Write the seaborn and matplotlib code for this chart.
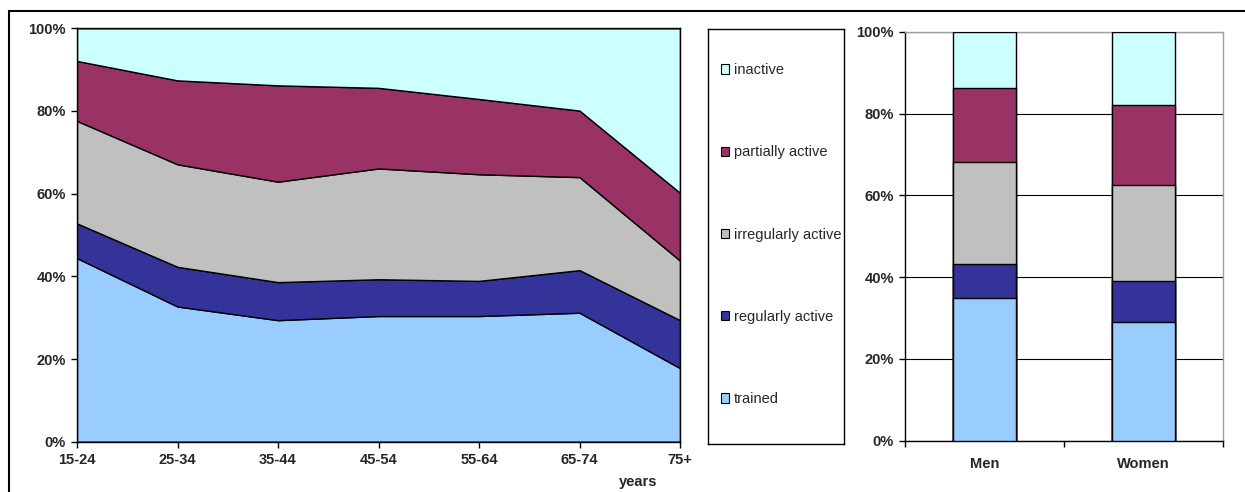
import numpy as np
import pandas as pd
import matplotlib
matplotlib.use("Agg")
import matplotlib.pyplot as plt
import seaborn as sns
from matplotlib.patches import Patch, Rectangle
from matplotlib.ticker import FuncFormatter

# share of each activity level (%) by age group
age_groups = ['15-24', '25-34', '35-44', '45-54', '55-64', '65-74', '75+']
trained = [44.4, 32.7, 29.4, 30.4, 30.4, 31.2, 17.8]
regularly = [8.4, 9.6, 9.2, 8.9, 8.5, 10.3, 11.6]
irregularly = [24.8, 24.8, 24.3, 26.8, 25.8, 22.5, 14.4]
partially = [14.5, 20.3, 23.3, 19.5, 18.2, 16.1, 16.4]
inactive = [7.9, 12.6, 13.8, 14.4, 17.1, 19.9, 39.8]

# share of each activity level (%) by sex
sexes = ['Men', 'Women']
sex_trained = [34.8, 29.1]
sex_regularly = [8.3, 9.9]
sex_irregularly = [25.0, 23.4]
sex_partially = [18.1, 19.7]
sex_inactive = [13.8, 17.9]

levels = ['trained', 'regularly active', 'irregularly active', 'partially active', 'inactive']
colors = ['#99CCFF', '#333399', '#C0C0C0', '#993366', '#CCFFFF']

sns.set_style('white')
plt.rcParams['font.family'] = ['Liberation Sans', 'DejaVu Sans']

fig = plt.figure(figsize=(12.45, 4.92), dpi=100)
W, H = 1245, 492

def box(x0, y0, x1, y1):
    return [x0 / W, 1 - y1 / H, (x1 - x0) / W, (y1 - y0) / H]

pct = FuncFormatter(lambda v, p: f'{v:.0f}%')

# --- stacked area by age group ---
ax1 = fig.add_axes(box(77, 28.3, 680, 441.7))
x = np.arange(len(age_groups))
ax1.stackplot(x, trained, regularly, irregularly, partially, inactive,
              colors=colors, edgecolor='black', linewidth=1)
ax1.set_xlim(0, len(age_groups) - 1)
ax1.set_ylim(0, 100)
ax1.set_xticks(x)
ax1.set_xticklabels(age_groups)
ax1.set_yticks(range(0, 101, 20))
ax1.yaxis.set_major_formatter(pct)
for s in ax1.spines.values():
    s.set_color('black')
    s.set_linewidth(1)
ax1.tick_params(axis='both', which='major', length=4, width=1, color='black',
                direction='out', bottom=True, left=True, pad=4, labelsize=10.5)
for lab in ax1.get_xticklabels() + ax1.get_yticklabels():
    lab.set_fontweight('bold')
ax1.text(0.93, -0.097, 'years', transform=ax1.transAxes, ha='center', va='center',
         fontsize=10.5, fontweight='bold')

# --- legend box ---
axl = fig.add_axes(box(708.3, 29.3, 844, 444.3))
axl.set_xticks([])
axl.set_yticks([])
for s in axl.spines.values():
    s.set_color('black')
    s.set_linewidth(1)
handles = [Patch(facecolor=c, edgecolor='black', linewidth=0.8, label=l)
           for c, l in zip(colors, levels)][::-1]
axl.legend(handles=handles, loc='center left', bbox_to_anchor=(0.0, 0.505),
           frameon=False, fontsize=10.5, labelspacing=4.68, handlelength=0.6,
           handleheight=0.6, handletextpad=0.3, borderaxespad=0.45)

# --- stacked bars by sex ---
ax2 = fig.add_axes(box(905, 31.7, 1222.7, 440.7))
shares = [sex_trained, sex_regularly, sex_irregularly, sex_partially, sex_inactive]
cum = np.cumsum(np.array(shares), axis=0)
df = pd.DataFrame({'sex': np.tile(sexes, len(levels)),
                   'level': np.repeat(levels, len(sexes)),
                   'top': cum.ravel()})
for lvl, c in list(zip(levels, colors))[::-1]:
    sns.barplot(data=df[df['level'] == lvl], x='sex', y='top', order=sexes,
                color=c, saturation=1, edgecolor='black', linewidth=1, width=0.4,
                errorbar=None, ax=ax2, zorder=3)
ax2.set_xlim(-0.5, 1.5)
ax2.set_ylim(0, 100)
ax2.set_xlabel('')
ax2.set_ylabel('')
ax2.set_yticks(range(0, 101, 20))
ax2.yaxis.set_major_formatter(pct)
ax2.yaxis.grid(True, color='black', linewidth=0.8, zorder=0)
ax2.set_axisbelow(True)
ax2.spines['left'].set_color('black')
ax2.spines['bottom'].set_color('black')
ax2.spines['top'].set_color('#A0A0A0')
ax2.spines['right'].set_color('#A0A0A0')
for s in ax2.spines.values():
    s.set_linewidth(1)
ax2.set_xticks([-0.5, 0.5, 1.5], minor=True)
ax2.tick_params(axis='x', which='major', length=0, pad=12, labelsize=10.5)
ax2.tick_params(axis='x', which='minor', length=4, width=1, color='black', bottom=True)
ax2.tick_params(axis='y', length=4, width=1, color='black', left=True, pad=4, labelsize=10.5)
for lab in ax2.get_xticklabels() + ax2.get_yticklabels():
    lab.set_fontweight('bold')

# outer frame
fig.patches.append(Rectangle((8.5 / W, -0.1), 2, 1.1 - 11 / H, transform=fig.transFigure,
                             fill=False, edgecolor='black', linewidth=1.5))

fig.savefig('out.png', dpi=100)
